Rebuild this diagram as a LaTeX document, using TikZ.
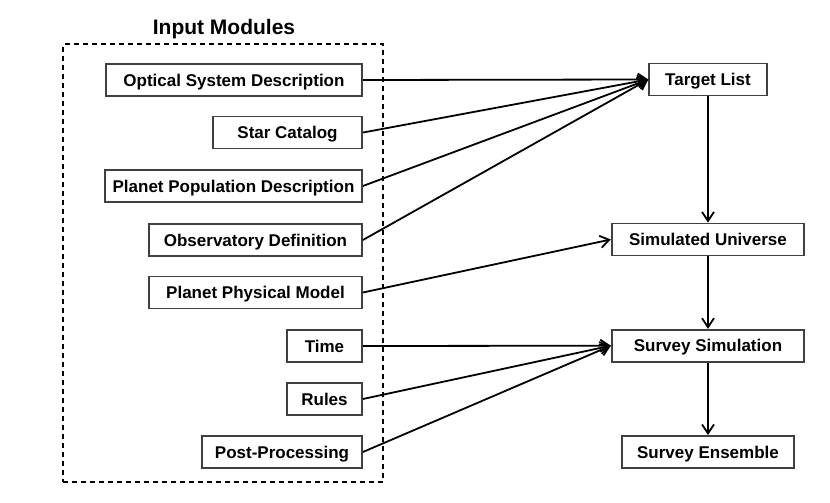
\documentclass[tikz,border=0pt]{standalone}
\usepackage{fontspec}
\setmainfont{Liberation Sans}
\usetikzlibrary{arrows.meta}
\begin{document}
\begin{tikzpicture}[x=1pt,y=-1pt,
  box/.style={draw=black!75,line width=1.8pt,fill=white,inner sep=0pt,minimum height=32pt,text height=12.2pt,text depth=0pt,font=\fontsize{17}{20}\selectfont\bfseries},
  conn/.style={line width=1.8pt,-{Straight Barb[length=9pt,width=12pt,line width=1.8pt]}},
  group/.style={draw,line width=1.8pt,dash pattern=on 5pt off 4pt}]
\useasboundingbox (0,0) rectangle (830,503);
\node[group,minimum width=320pt,minimum height=437.5pt,inner sep=0pt] (grp) at (223.3,263) {};
\node[font=\fontsize{21}{24}\selectfont\bfseries,text height=15pt,text depth=0pt,inner sep=0pt] (title) at (224,27.5) {Input Modules};
% left modules
\node[box,minimum width=256.5pt] (osd) at (234,80) {Optical System Description};
\node[box,minimum width=149.5pt] (sc) at (287.5,132.5) {Star Catalog};
\node[box,minimum width=257pt] (ppd) at (233.5,186) {Planet Population Description};
\node[box,minimum width=213pt] (od) at (255.5,240) {Observatory Definition};
\node[box,minimum width=213pt] (ppm) at (255.5,292.5) {Planet Physical Model};
\node[box,minimum width=75pt] (time) at (324.5,346) {Time};
\node[box,minimum width=75pt] (rules) at (324.5,399) {Rules};
\node[box,minimum width=160pt] (pp) at (282,452) {Post-Processing};
% right chain
\node[box,minimum width=117.5pt] (tl) at (708,79.5) {Target List};
\node[box,minimum width=192.5pt] (su) at (708,239.5) {Simulated Universe};
\node[box,minimum width=192.5pt] (ss) at (708,345.7) {Survey Simulation};
\node[box,minimum width=171.5pt] (se) at (708,452) {Survey Ensemble};
% connectors
\foreach \n in {osd,sc,ppd,od}
  \draw[conn] (\n.east) -- (tl.west);
\draw[conn] (ppm.east) -- (su.west);
\foreach \n in {time,rules,pp}
  \draw[conn] (\n.east) -- (ss.west);
\draw[conn] (tl.south) -- (su.north);
\draw[conn] (su.south) -- (ss.north);
\draw[conn] (ss.south) -- (se.north);
\end{tikzpicture}
\end{document}
